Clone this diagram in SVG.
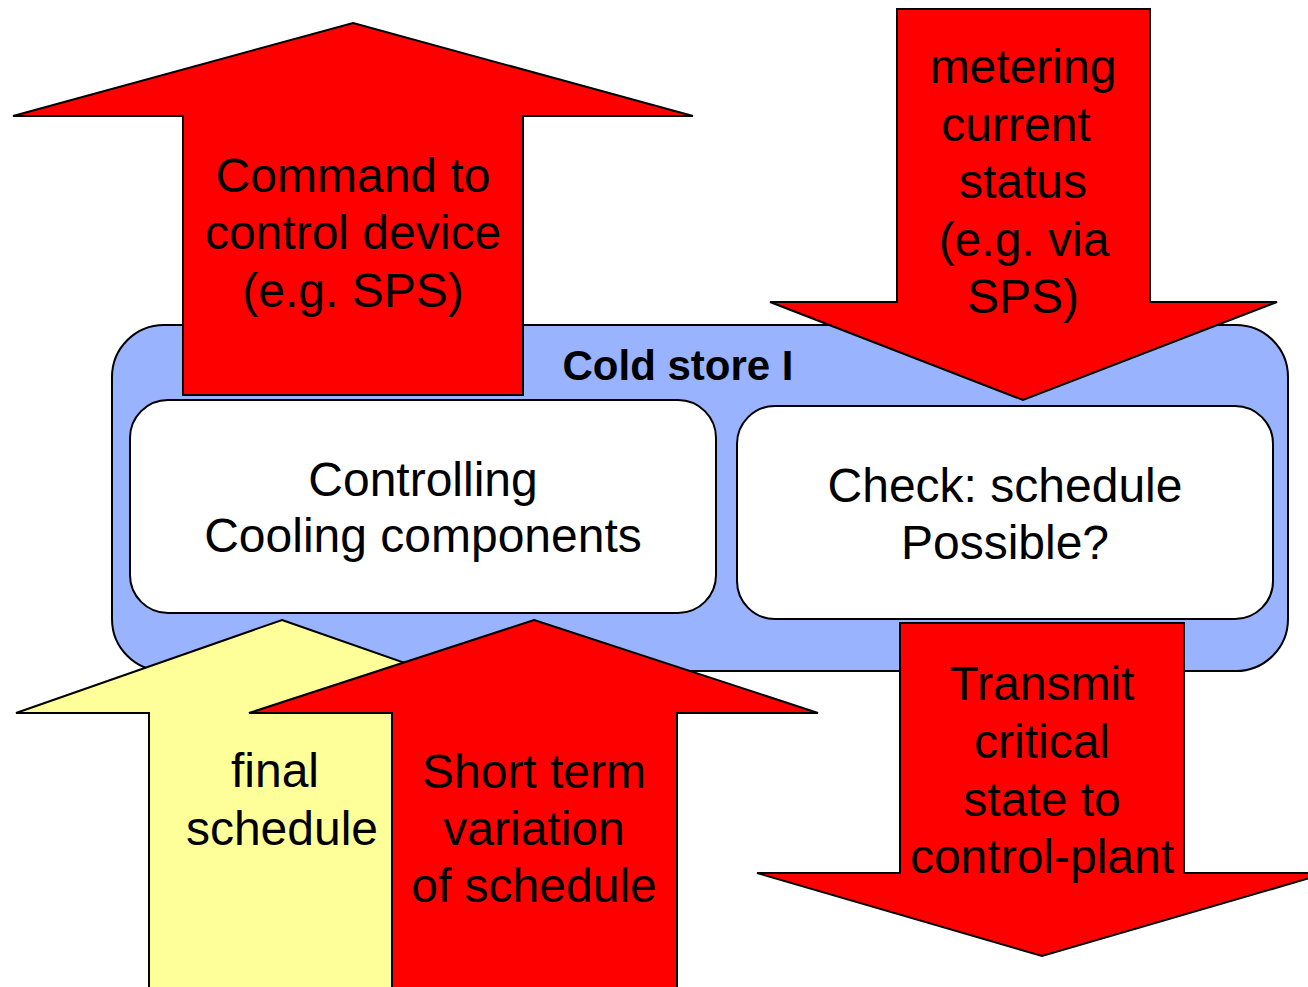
<svg xmlns="http://www.w3.org/2000/svg" width="1308" height="987" viewBox="0 0 1308 987">
  <style>
    .lbl { font-family: "Liberation Sans", Arial, sans-serif; font-size: 48px; fill: #000; text-anchor: middle; }
    .title { font-family: "Liberation Sans", Arial, sans-serif; font-size: 42px; font-weight: bold; fill: #000; text-anchor: middle; }
    .arrow-red { fill: #FF0000; stroke: #000; stroke-width: 2; stroke-linejoin: miter; }
    .arrow-yellow { fill: #FFFF99; stroke: #000; stroke-width: 2; stroke-linejoin: miter; }
    .box { fill: #FFFFFF; stroke: #000; stroke-width: 2; }
    .store { fill: #99B3FF; stroke: #000; stroke-width: 2; }
  </style>
  <rect width="1308" height="987" fill="#FFFFFF"/>

  <!-- Cold store container -->
  <g id="cold-store">
    <rect class="store" x="112" y="325" width="1176" height="346" rx="52" ry="52"/>
    <text class="title" x="678" y="380">Cold store I</text>
  </g>

  <g id="controlling">
    <rect class="box" x="130" y="400" width="586" height="213" rx="38" ry="38"/>
    <text class="lbl" x="423" y="496">Controlling</text>
    <text class="lbl" x="423" y="552">Cooling components</text>
  </g>

  <g id="check">
    <rect class="box" x="737" y="406" width="536" height="213" rx="38" ry="38"/>
    <text class="lbl" x="1005" y="502">Check: schedule</text>
    <text class="lbl" x="1005" y="559">Possible?</text>
  </g>

  <!-- Block arrows linking the cold store with its surroundings -->
  <g id="connectors">
    <g id="command">
      <polygon class="arrow-red" points="353,23 693,116 523,116 523,395 183,395 183,116 13,116"/>
      <text class="lbl" x="353" y="192">Command to</text>
      <text class="lbl" x="353" y="249">control device</text>
      <text class="lbl" x="353" y="307">(e.g. SPS)</text>
    </g>

    <g id="metering">
      <polygon class="arrow-red" points="897,9 1150,9 1150,302 1277,302 1023,400 770,302 897,302"/>
      <text class="lbl" x="1023" y="83">metering</text>
      <text class="lbl" x="1016" y="141">current</text>
      <text class="lbl" x="1023" y="198">status</text>
      <text class="lbl" x="1024" y="256">(e.g. via</text>
      <text class="lbl" x="1023" y="313">SPS)</text>
    </g>

    <g id="transmit">
      <polygon class="arrow-red" points="900,623 1184,623 1184,873 1327,873 1042,956 757,873 900,873"/>
      <text class="lbl" x="1042" y="700">Transmit</text>
      <text class="lbl" x="1042" y="758">critical</text>
      <text class="lbl" x="1042" y="816">state to</text>
      <text class="lbl" x="1042" y="873">control-plant</text>
    </g>

    <g id="final-schedule">
      <polygon class="arrow-yellow" points="282,620 548,713 392,713 392,1000 149,1000 149,713 16,713"/>
      <text class="lbl" x="275" y="787">final</text>
      <text class="lbl" x="282" y="845">schedule</text>
    </g>

    <g id="short-term">
      <polygon class="arrow-red" points="534,620 818,713 677,713 677,1000 392,1000 392,713 249,713"/>
      <text class="lbl" x="534" y="788">Short term</text>
      <text class="lbl" x="534" y="845">variation</text>
      <text class="lbl" x="534" y="902">of schedule</text>
    </g>
  </g>
</svg>
